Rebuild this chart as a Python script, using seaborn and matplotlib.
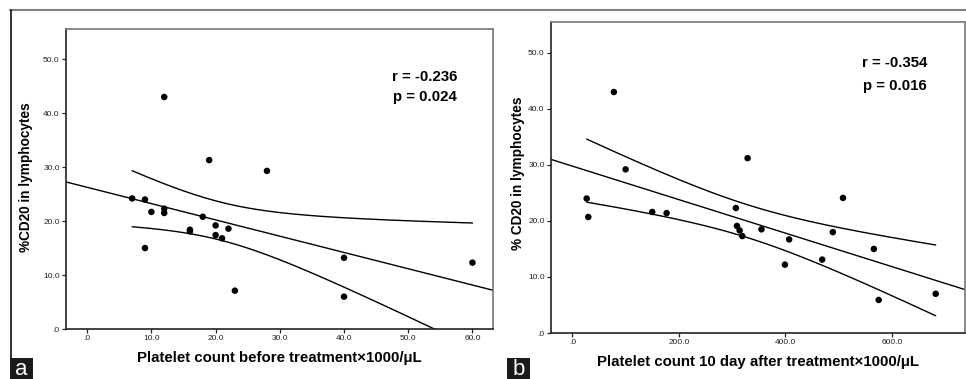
import numpy as np
import matplotlib
matplotlib.use("Agg")
import matplotlib.pyplot as plt
from matplotlib.patches import Rectangle
from matplotlib.lines import Line2D
import seaborn as sns

# data
plt_before = [7, 9, 10, 12, 12, 12, 9, 16, 16, 18, 19, 20, 20, 21, 22, 23, 28, 40, 40, 60]
cd20_a = [24.2, 24.0, 21.7, 43.0, 22.3, 21.5, 15.0, 18.4, 18.1, 20.8, 31.3, 19.2,
          17.4, 16.8, 18.6, 7.1, 29.3, 13.2, 6.0, 12.3]

plt_after = [27, 30, 78, 100, 150, 177, 307, 309, 314, 319, 329, 355, 399, 407,
             469, 489, 508, 566, 575, 682]
cd20_b = [24.0, 20.7, 43.0, 29.2, 21.6, 21.4, 22.3, 19.1, 18.3, 17.3, 31.2, 18.5,
          12.2, 16.7, 13.1, 18.0, 24.1, 15.0, 5.9, 7.0]

yticks = [0, 10, 20, 30, 40, 50]
ytick_labels = [".0", "10.0", "20.0", "30.0", "40.0", "50.0"]
xticks_a = [0, 10, 20, 30, 40, 50, 60]
xtick_labels_a = [".0", "10.0", "20.0", "30.0", "40.0", "50.0", "60.0"]
xticks_b = [0, 200, 400, 600]
xtick_labels_b = [".0", "200.0", "400.0", "600.0"]

stats_a = ["r = -0.236", "p = 0.024"]
stats_b = ["r = -0.354", "p = 0.016"]

sns.set_style("white")
plt.rcParams["font.family"] = ["Liberation Sans", "DejaVu Sans"]
plt.rcParams["text.color"] = "black"
plt.rcParams["axes.labelcolor"] = "black"

fig = plt.figure(figsize=(9.66, 3.79), dpi=100)
ax_a = fig.add_axes([66 / 966, 50 / 379, 427 / 966, 300 / 379])
ax_b = fig.add_axes([551 / 966, 46 / 379, 414 / 966, 311 / 379])


def ci_lines(ax, x, y):
    # 95% confidence band of the mean (t for df=18)
    x = np.asarray(x, float)
    y = np.asarray(y, float)
    n = len(x)
    b1, b0 = np.polyfit(x, y, 1)
    resid = y - (b0 + b1 * x)
    s = np.sqrt(np.sum(resid ** 2) / (n - 2))
    sxx = np.sum((x - x.mean()) ** 2)
    grid = np.linspace(x.min(), x.max(), 200)
    half = 2.101 * s * np.sqrt(1 / n + (grid - x.mean()) ** 2 / sxx)
    fit = b0 + b1 * grid
    ax.plot(grid, fit + half, color="black", lw=1.0)
    ax.plot(grid, fit - half, color="black", lw=1.0)


def panel(ax, x, y, xlim, xticks, xlabels, xlabel, ylabel, stats, st_pos):
    ax.set_xlim(*xlim)
    ax.set_ylim(0, 55.6)
    sns.regplot(x=x, y=y, ax=ax, ci=None, truncate=False,
                scatter_kws=dict(s=22, color="black", edgecolor="none", alpha=1),
                line_kws=dict(color="black", lw=1.0))
    ci_lines(ax, x, y)
    ax.set_xlim(*xlim)
    ax.set_ylim(0, 55.6)
    ax.set_xticks(xticks)
    ax.set_xticklabels(xlabels)
    ax.set_yticks(yticks)
    ax.set_yticklabels(ytick_labels)
    ax.tick_params(direction="out", length=3, width=0.9, color="#222222",
                   labelsize=6, labelcolor="#222222", pad=1.5,
                   left=True, bottom=True)
    for side in ["left", "bottom"]:
        ax.spines[side].set_color("#222222")
        ax.spines[side].set_linewidth(1.2)
    for side in ["top", "right"]:
        ax.spines[side].set_color("#777777")
        ax.spines[side].set_linewidth(1.2)
    ax.set_xlabel(xlabel, fontsize=10.8, fontweight="bold")
    ax.set_ylabel(ylabel, fontsize=9.8, fontweight="bold")
    ax.text(st_pos[0], st_pos[1], stats[0], transform=ax.transAxes, ha="right",
            va="center", fontsize=10.8, fontweight="bold")
    ax.text(st_pos[0], st_pos[2], stats[1], transform=ax.transAxes, ha="right",
            va="center", fontsize=10.8, fontweight="bold")


panel(ax_a, plt_before, cd20_a, (-3.3, 63.2), xticks_a, xtick_labels_a,
      "Platelet count before treatment×1000/μL", "%CD20 in lymphocytes",
      stats_a, (0.916, 0.84, 0.773))
ax_a.xaxis.set_label_coords(0.499, -0.073)
ax_a.yaxis.set_label_coords(-0.078, 0.507)

panel(ax_b, plt_after, cd20_b, (-40, 737), xticks_b, xtick_labels_b,
      "Platelet count 10 day after treatment×1000/μL", "% CD20 in lymphocytes",
      stats_b, (0.908, 0.868, 0.794))
ax_b.set_ylim(0, 55.5)
ax_b.xaxis.set_label_coords(0.5, -0.072)
ax_b.yaxis.set_label_coords(-0.064, 0.514)

# outer frame lines
fig.add_artist(Line2D([10 / 966, 1], [369 / 379, 369 / 379], color="#808080", lw=1.5))
fig.add_artist(Line2D([10.5 / 966, 10.5 / 966], [21 / 379, 369 / 379], color="#111111", lw=1.2))

# panel letters
for px, letter in [(10, "a"), (507, "b")]:
    fig.add_artist(Rectangle((px / 966, 0), 23 / 966, 21 / 379, transform=fig.transFigure,
                             facecolor="#1a1a1a", edgecolor="none"))
    fig.text((px + 11.5) / 966, 9.5 / 379, letter, color="white", fontsize=16,
             ha="center", va="center")

fig.savefig("out.png", dpi=100)
